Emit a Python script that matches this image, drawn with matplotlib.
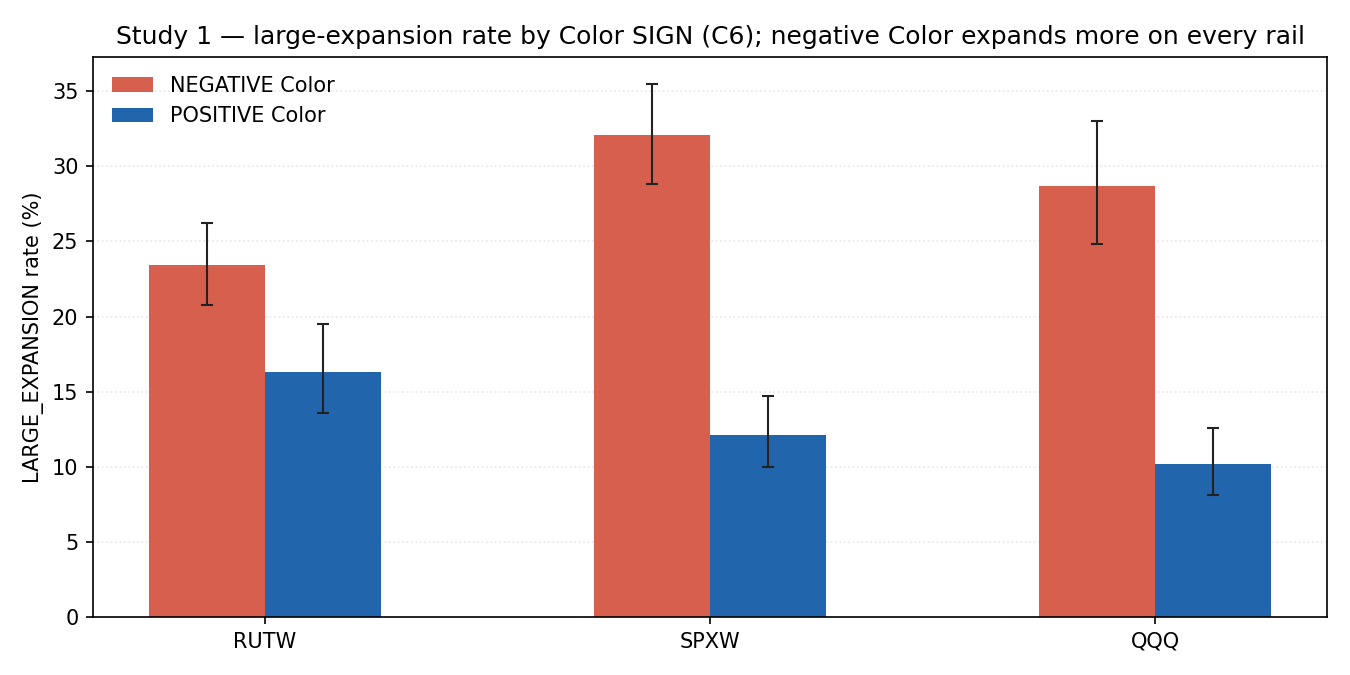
import numpy as np
import matplotlib.pyplot as plt

rails = ["RUTW", "SPXW", "QQQ"]
neg_rate = [23.4, 32.1, 28.7]
neg_lo = [20.8, 28.8, 24.8]
neg_hi = [26.2, 35.5, 33.0]
pos_rate = [16.3, 12.1, 10.2]
pos_lo = [13.6, 10.0, 8.1]
pos_hi = [19.5, 14.7, 12.6]

x = np.arange(len(rails))
w = 0.26

fig, ax = plt.subplots(figsize=(9, 4.5), dpi=150)

neg_err = [np.array(neg_rate) - np.array(neg_lo), np.array(neg_hi) - np.array(neg_rate)]
pos_err = [np.array(pos_rate) - np.array(pos_lo), np.array(pos_hi) - np.array(pos_rate)]

ax.bar(x - w / 2, neg_rate, w, color="#d6604d", label="NEGATIVE Color",
       yerr=neg_err, capsize=3, error_kw=dict(elinewidth=1, ecolor="#222222", capthick=1))
ax.bar(x + w / 2, pos_rate, w, color="#2166ac", label="POSITIVE Color",
       yerr=pos_err, capsize=3, error_kw=dict(elinewidth=1, ecolor="#222222", capthick=1))

ax.set_xticks(x)
ax.set_xticklabels(rails)
ax.set_ylabel("LARGE_EXPANSION rate (%)")
ax.set_title("Study 1 — large-expansion rate by Color SIGN (C6); negative Color expands more on every rail")
ax.grid(axis="y", linestyle=":", alpha=0.3)
ax.set_axisbelow(True)
ax.legend(loc="upper left", frameon=False)

fig.subplots_adjust(left=0.0689, right=0.983, top=0.9156, bottom=0.0859)
fig.savefig("out.png")
